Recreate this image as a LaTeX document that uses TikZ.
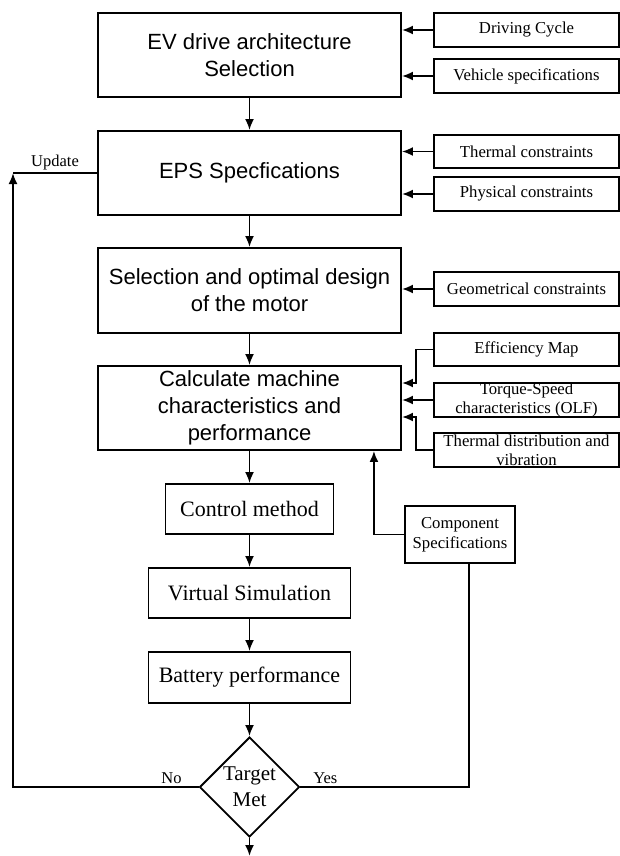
\documentclass[tikz,border=0pt]{standalone}
\usepackage{fontspec}
\setmainfont{Liberation Serif}
\setsansfont{Liberation Sans}
\usetikzlibrary{arrows.meta,shapes.geometric,positioning,calc}

\begin{document}
\begin{tikzpicture}[x=1pt,y=-1pt,line width=1.9pt,
	>={Latex[length=11pt,width=9pt]},
	mainbox/.style={draw,align=center,minimum width=303,minimum height=84,inner sep=0pt,
		font=\sffamily\fontsize{22}{27}\selectfont},
	side/.style={draw,align=center,minimum width=185,minimum height=34,inner sep=0pt,
		font=\fontsize{16.7}{19}\selectfont},
	stepbox/.style={draw,minimum width=202,minimum height=50,inner sep=0pt,
		font=\fontsize{22}{26}\selectfont},
	decision/.style={draw,diamond,minimum width=100,minimum height=100,inner sep=-6pt,
		align=center,font=\fontsize{21}{26}\selectfont},
	lbl/.style={font=\fontsize{16.5}{18}\selectfont,inner sep=2pt}]
	\useasboundingbox (0,0) rectangle (620,856);
		\node[mainbox] (arch) at (249.5,55) {EV drive architecture\\Selection};
		\node[mainbox] (eps) at (249.5,173) {EPS Specfications};
		\node[mainbox,minimum height=85] (motor) at (249.5,290.5) {Selection and optimal design\\of the motor};
		\node[mainbox] (calc) at (249.5,408) {Calculate machine\\characteristics and\\performance};
		\node[stepbox,minimum width=168] (control) at (249.5,509) {Control method};
		\node[stepbox] (virtual) at (249.5,593) {Virtual Simulation};
		\node[stepbox,minimum height=51] (battery) at (249.5,677.5) {Battery performance};
		\node[decision] (target) at (249.5,787) {Target\\Met};
		\coordinate (stop) at (249.5,856);
		\coordinate (upd) at (13,173);

		\node[side] (cycle) at (526.5,30) {Driving Cycle};
		\node[side] (vehicle) at (526.5,76) {Vehicle specifications};
		\node[side,minimum height=33] (thermal) at (526.5,151.5) {Thermal constraints};
		\node[side] (physical) at (526.5,194) {Physical constraints};
		\node[side] (geom) at (526.5,289) {Geometrical constraints};
		\node[side,minimum height=33] (effmap) at (526.5,349.5) {Efficiency Map};
		\node[side] (torque) at (526.5,400) {Torque-Speed\\characteristics (OLF)};
		\node[side] (tdist) at (526.5,450) {Thermal distribution and\\vibration};
		\node[side,minimum width=110,minimum height=57,font=\fontsize{16.7}{20}\selectfont] (comp) at (460,534.5) {Component\\Specifications};

		\draw[->] (arch) -- (eps);
		\draw[->] (eps) -- (motor);
		\draw[->] (motor) -- (calc);
		\draw[->] (calc) -- (control);
		\draw[->] (control) -- (virtual);
		\draw[->] (virtual) -- (battery);
		\draw[->] (battery) -- (target);
		\draw[->] (target) -- (stop);

		\foreach \n in {cycle,vehicle} \draw[->] (\n) -- (arch.east |- \n);
		\foreach \n in {thermal,physical} \draw[->] (\n) -- (eps.east |- \n);
		\draw[->] (geom) -- (motor.east |- geom);
		\draw[->] (torque) -- (calc.east |- torque);
		\draw[->] (effmap.west) -- ++(-17,0) |- ($(calc.east |- torque)+(0,-17)$);
		\draw[->] (tdist.west) -- ++(-17,0) |- ($(calc.east |- torque)+(0,17)$);
		\draw[->] (comp.west) -| ($(calc.south east)+(-28,0)$);

		\draw ($(comp.south)+(9,0)$) |- (target.east);
		\draw[->] (target.west) -| (upd);
		\draw (upd) -- node[lbl,above]{Update} (eps.west);
		\node[lbl,above right=0pt and 10pt of target.east] {Yes};
		\node[lbl,above left=0pt and 14pt of target.west] {No};
	\end{tikzpicture}
\end{document}
